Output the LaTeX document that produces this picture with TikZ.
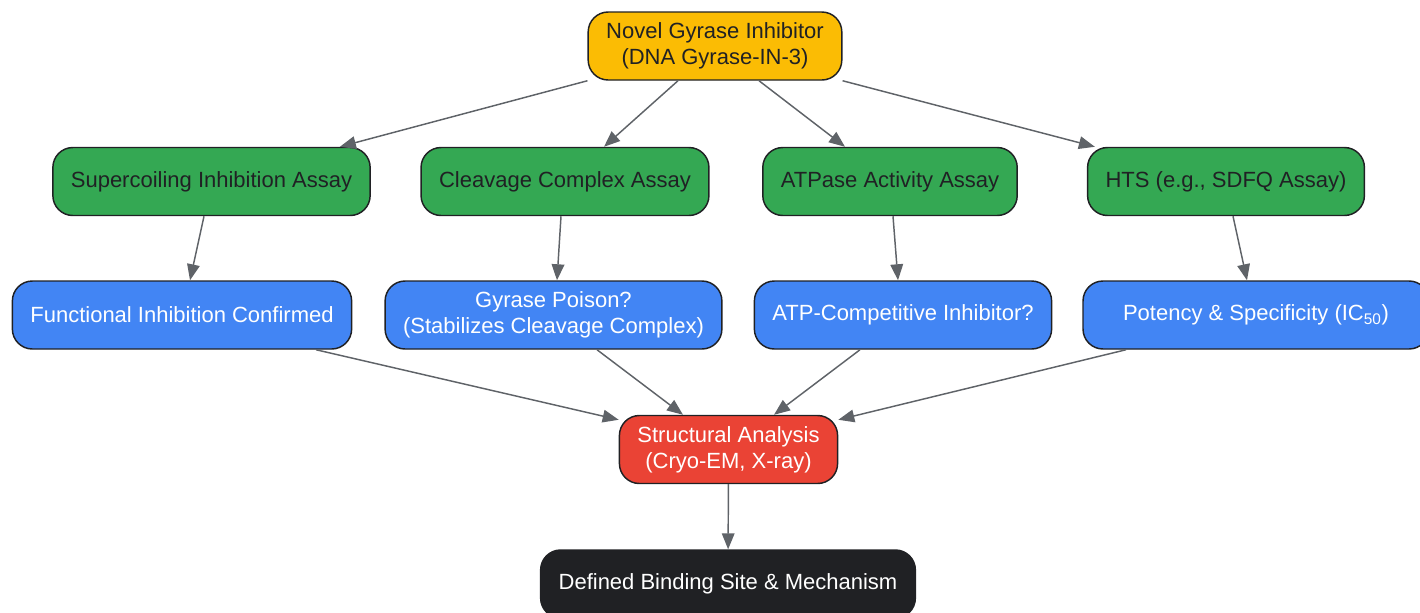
\documentclass[tikz,border=0pt]{standalone}
\usepackage{fontspec}
\setmainfont{Liberation Sans}
\usetikzlibrary{arrows.meta,calc}

\definecolor{gyellow}{HTML}{FBBC04}
\definecolor{ggreen}{HTML}{34A853}
\definecolor{gblue}{HTML}{4285F4}
\definecolor{gred}{HTML}{EA4335}
\definecolor{gdark}{HTML}{202124}
\definecolor{edgegray}{HTML}{5F6368}

\tikzset{every picture/.style={line width=0.75pt},
  box/.style={draw=gdark, line width=1.1pt, rounded corners=15pt, align=center,
    inner xsep=13.5pt, minimum height=51pt, font=\fontsize{16.5}{19.5}\selectfont},
  darktext/.style={box, text=gdark},
  lighttext/.style={box, text=white},
  flow/.style={draw=edgegray, line width=1.1pt, -{Triangle[length=12pt,width=9.5pt]}}
}

\begin{document}
\begin{tikzpicture}[x=0.75pt,y=0.75pt,yscale=-1,xscale=1]
\useasboundingbox (0,0) rectangle (1420,612);

%Shape: top
\node [darktext, fill=gyellow] (novel) at (715,46) {Novel Gyrase Inhibitor\\(DNA Gyrase-IN-3)};

%Shape: assays
\node [darktext, fill=ggreen] (supercoil) at (211.5,181.5) {Supercoiling Inhibition Assay};
\node [darktext, fill=ggreen] (cleavage) at (565,181.5) {Cleavage Complex Assay};
\node [darktext, fill=ggreen] (atpase) at (890,181.5) {ATPase Activity Assay};
\node [darktext, fill=ggreen] (hts) at (1226,181.5) {HTS (e.g., SDFQ Assay)};

%Shape: outcomes
\node [lighttext, fill=gblue] (functional) at (182,315) {Functional Inhibition Confirmed};
\node [lighttext, fill=gblue] (poison) at (553.5,315) {Gyrase Poison?\\(Stabilizes Cleavage Complex)};
\node [lighttext, fill=gblue] (atpcomp) at (903,315) {ATP-Competitive Inhibitor?};
\node [lighttext, fill=gblue, minimum width=259.5pt] (potency) at (1256,315) {Potency \& Specificity (IC\textsubscript{50})};

%Shape: structure
\node [lighttext, fill=gred] (struct) at (728.5,449.5) {Structural Analysis\\(Cryo-EM, X-ray)};
\node [lighttext, fill=gdark] (binding) at (728,584) {Defined Binding Site \& Mechanism};

%Straight Lines
\draw [flow] (novel.south west) -- ($(supercoil.north east)+(-31,0)$);
\draw [flow] ($(novel.south)+(-37,0)$) -- ($(cleavage.north)+(39,0)$);
\draw [flow] ($(novel.south)+(44,0)$) -- ($(atpase.north)+(-45,0)$);
\draw [flow] (novel.south east) -- ($(hts.north west)+(8,0)$);

\draw [flow] ($(supercoil.south)+(-7.5,0)$) -- ($(functional.north)+(8,0)$);
\draw [flow] ($(cleavage.south)+(-4,0)$) -- ($(poison.north)+(3.5,0)$);
\draw [flow] ($(atpase.south)+(3,0)$) -- ($(atpcomp.north)+(-5,0)$);
\draw [flow] ($(hts.south)+(7,0)$) -- ($(potency.north)+(-9,0)$);

\draw [flow] ($(functional.south)+(134,0)$) -- ($(struct.north west)+(0,5)$);
\draw [flow] ($(poison.south)+(43.5,0)$) -- ($(struct.north)+(-45.5,0)$);
\draw [flow] ($(atpcomp.south)+(-43,0)$) -- ($(struct.north)+(45.5,0)$);
\draw [flow] ($(potency.south)+(-130,0)$) -- ($(struct.north east)+(0,5)$);

\draw [flow] (struct) -- (binding);

\end{tikzpicture}
\end{document}
